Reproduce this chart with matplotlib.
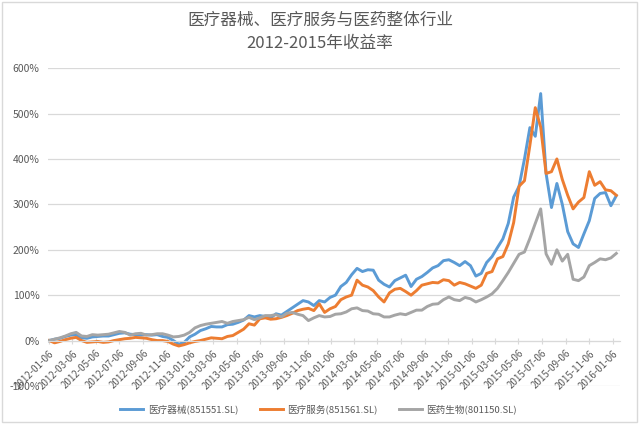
import numpy as np
import pandas as pd
import matplotlib
matplotlib.use("Agg")
import matplotlib.pyplot as plt
import matplotlib.dates as mdates
from matplotlib.patches import Rectangle
from matplotlib.ticker import FuncFormatter

plt.rcParams['font.family'] = ['Noto Sans CJK SC', 'DejaVu Sans']

# cumulative return (%), sampled every two weeks from 2012-01-06
start_date = "2012-01-06"
step = "14D"

qixie = [0, 3, 5, 9, 12, 13, 6, 5, 8, 9,
         10, 10, 13, 16, 17, 14, 13, 12, 13, 12,
         13, 9, 7, 0, -8, -4, 8, 14, 22, 26,
         31, 30, 30, 35, 36, 40, 45, 55, 52, 55,
         53, 50, 59, 56, 64, 72, 80, 88, 85, 77,
         88, 85, 95, 100, 119, 128, 145, 159, 152, 156,
         155, 133, 124, 118, 132, 138, 144, 119, 135, 141,
         150, 160, 165, 176, 178, 172, 165, 174, 165, 142,
         148, 172, 185, 205, 224, 258, 316, 340, 400, 469,
         450, 544, 368, 293, 346, 300, 240, 213, 205, 235,
         264, 313, 324, 326, 297, 319]

fuwu = [0, -5, -2, 2, 5, 7, 0, -4, -3, -2,
        -4, -3, 0, 2, 4, 5, 7, 6, 5, 2,
        0, 0, -2, -8, -12, -9, -5, -2, 0, 3,
        6, 5, 4, 9, 11, 18, 25, 37, 34, 48,
        50, 47, 48, 51, 55, 60, 66, 69, 71, 66,
        81, 62, 70, 75, 90, 96, 100, 133, 122, 118,
        110, 96, 85, 105, 113, 115, 108, 100, 110, 122,
        125, 128, 127, 134, 132, 122, 128, 125, 120, 115,
        122, 148, 152, 180, 185, 213, 260, 340, 352, 430,
        513, 470, 368, 372, 400, 355, 320, 290, 305, 315,
        372, 342, 350, 332, 330, 320]

yiyao = [0, 3, 6, 10, 15, 18, 10, 9, 13, 12,
         13, 14, 17, 20, 18, 12, 15, 16, 12, 13,
         15, 15, 12, 8, 9, 12, 18, 28, 33, 36,
         38, 40, 42, 38, 42, 44, 46, 51, 46, 50,
         55, 55, 57, 52, 60, 62, 58, 55, 44, 50,
         55, 52, 53, 58, 59, 63, 70, 72, 66, 65,
         59, 58, 52, 52, 56, 59, 57, 62, 67, 67,
         75, 80, 81, 90, 96, 90, 88, 95, 92, 85,
         90, 96, 103, 115, 132, 150, 170, 190, 195, 225,
         258, 290, 191, 168, 200, 175, 190, 135, 132, 140,
         165, 172, 180, 178, 182, 192]

labels = ["医疗器械(851551.SL)", "医疗服务(851561.SL)", "医药生物(801150.SL)"]
colors = ["#5B9BD5", "#ED7D31", "#A5A5A5"]

dates = pd.date_range(start_date, periods=len(qixie), freq=step)

fig = plt.figure(figsize=(6.4, 4.26), dpi=100)
ax = fig.add_axes([0.075, 0.094, 0.894, 0.746])

for vals, lab, col in zip([qixie, fuwu, yiyao], labels, colors):
    ax.plot(dates, vals, color=col, lw=2.1, label=lab, solid_joinstyle='round')

ax.set_ylim(-100, 600)
ax.set_yticks(np.arange(-100, 601, 100))
ax.yaxis.set_major_formatter(FuncFormatter(lambda v, p: f"{v:.0f}%"))
ax.set_xlim(pd.Timestamp("2012-01-03"), pd.Timestamp("2016-01-25"))
ax.grid(axis='y', color='#D9D9D9', lw=0.9)
ax.set_axisbelow(True)

for s in ['top', 'right', 'left']:
    ax.spines[s].set_visible(False)
ax.spines['bottom'].set_position(('data', 0))
ax.spines['bottom'].set_color('#D9D9D9')

ax.xaxis.set_major_locator(mdates.MonthLocator(bymonth=[1, 3, 5, 7, 9, 11], bymonthday=6))
ax.xaxis.set_major_formatter(mdates.DateFormatter("%Y-%m-%d"))
ax.tick_params(axis='x', colors='#D9D9D9', labelcolor='#595959', labelsize=7,
               length=4, direction='inout')
ax.tick_params(axis='y', length=0, labelcolor='#595959', labelsize=7.5, pad=6)
for t in ax.get_xticklabels():
    t.set_rotation(45)
    t.set_ha('right')
    t.set_rotation_mode('anchor')

fig.text(0.5, 0.953, "医疗器械、医疗服务与医药整体行业", ha='center', va='center',
         fontsize=12, color='#595959')
fig.text(0.5, 0.899, "2012-2015年收益率", ha='center', va='center',
         fontsize=12, color='#595959')

fig.legend(loc='center', bbox_to_anchor=(0.498, 0.04), ncol=3, frameon=False,
           fontsize=6.9, handlelength=2.4, handletextpad=0.5, columnspacing=2.2,
           labelcolor='#595959')

fig.patches.append(Rectangle((0.003, 0.01), 0.993, 0.985, transform=fig.transFigure,
                             fill=False, edgecolor='#D9D9D9', lw=1))

fig.savefig("out.png", dpi=100)
